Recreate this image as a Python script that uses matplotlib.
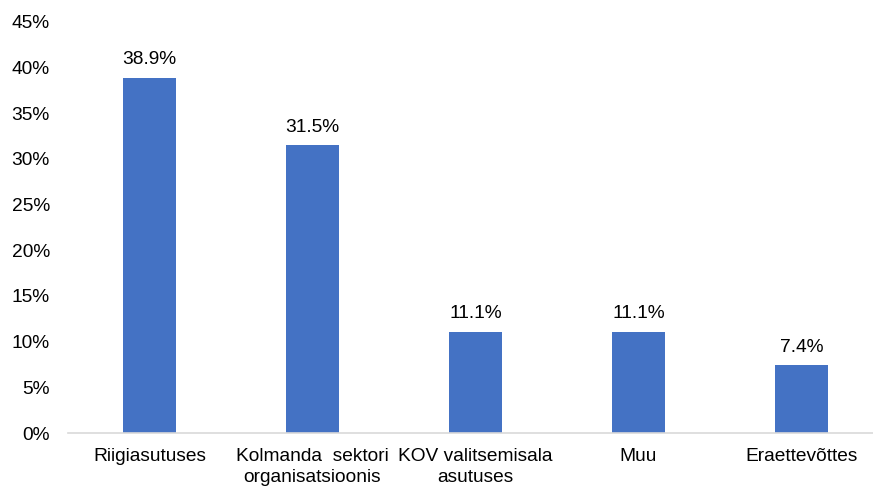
import matplotlib.pyplot as plt
from matplotlib.ticker import FuncFormatter

# Data
categories = ['Riigiasutuses', 'Kolmanda  sektori\norganisatsioonis',
              'KOV valitsemisala\nasutuses', 'Muu', 'Eraettevõttes']
shares = [0.389, 0.315, 0.111, 0.111, 0.074]
value_labels = ['38.9%', '31.5%', '11.1%', '11.1%', '7.4%']

plt.rcParams['font.family'] = ['Liberation Sans', 'DejaVu Sans']

fig = plt.figure(figsize=(8.73, 4.88), dpi=100)
ax = fig.add_axes([68 / 873, 55 / 488, 815 / 873, 411 / 488])

x = range(len(categories))
bars = ax.bar(x, shares, width=0.325, color='#4472C4', zorder=2)

ax.set_xlim(-0.5, len(categories) - 0.5)
ax.set_ylim(0, 0.45)
ax.set_yticks([i * 0.05 for i in range(10)])
ax.yaxis.set_major_formatter(FuncFormatter(lambda v, p: f'{v * 100:.0f}%'))

ax.set_xticks(list(x))
ax.set_xticklabels(categories, fontsize=13.8, linespacing=1.25)
ax.tick_params(axis='y', length=0, pad=13, labelsize=13.8)
ax.tick_params(axis='x', length=0, pad=11)

for s in ['top', 'right', 'left']:
    ax.spines[s].set_visible(False)
ax.spines['bottom'].set_color('#D9D9D9')
ax.spines['bottom'].set_linewidth(1.2)

# Value labels above bars
for bar, lab in zip(bars, value_labels):
    ax.annotate(lab, (bar.get_x() + bar.get_width() / 2, bar.get_height()),
                xytext=(0, 7), textcoords='offset points',
                ha='center', va='bottom', fontsize=13.8)

fig.savefig('out.png', dpi=100, facecolor='white')
